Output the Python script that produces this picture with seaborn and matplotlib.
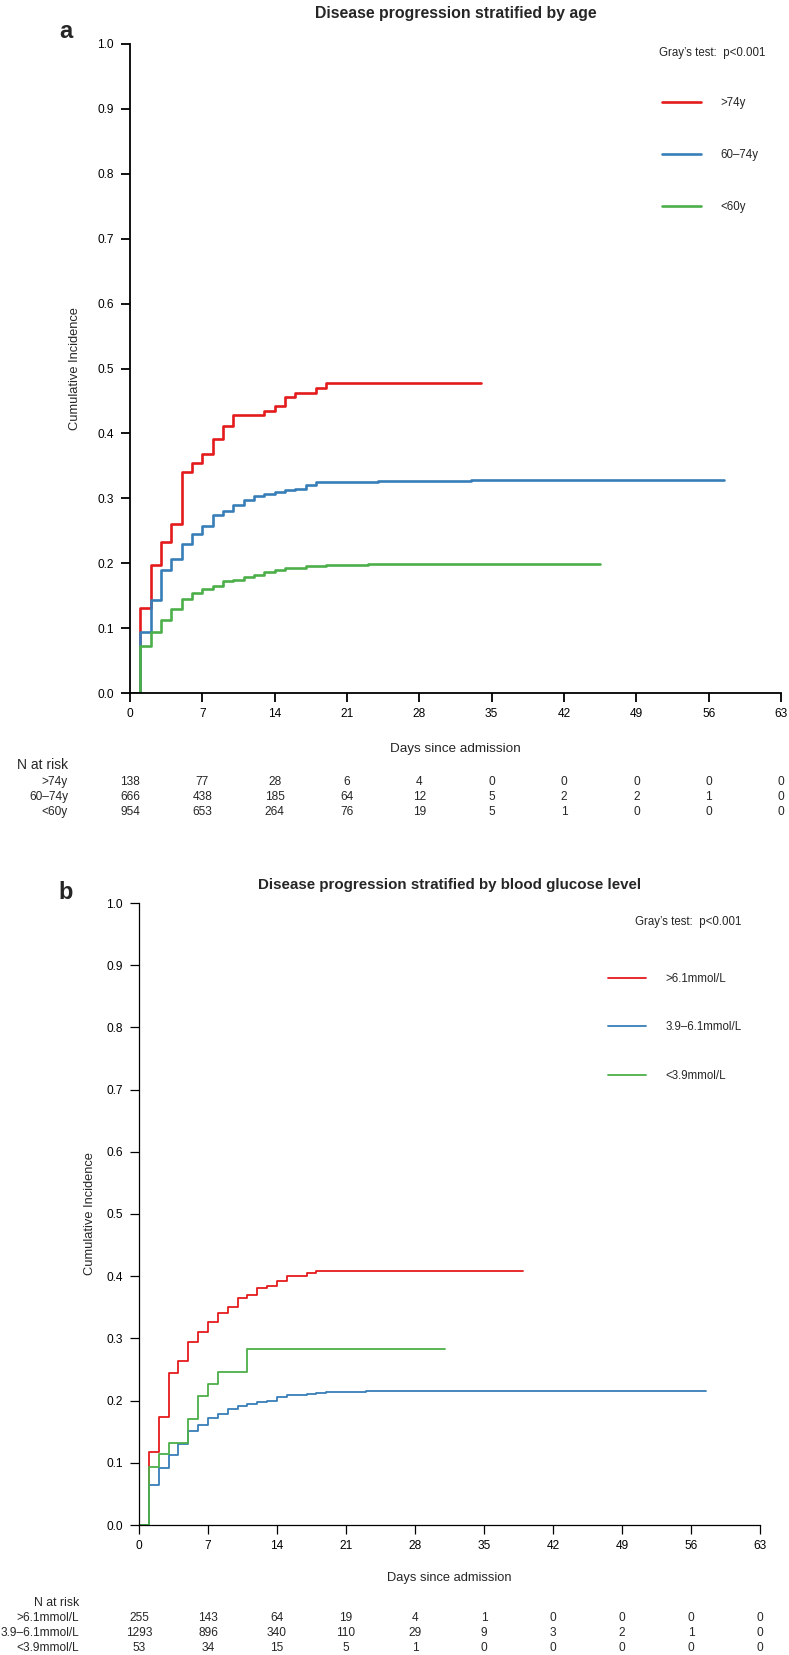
import numpy as np
import pandas as pd
import matplotlib
matplotlib.use("Agg")
import matplotlib.pyplot as plt
from matplotlib.lines import Line2D
from matplotlib.transforms import blended_transform_factory
import seaborn as sns

# ---------------- Panel a: age ----------------
age_groups = [">74y", "60\u201374y", "<60y"]
age_colors = ["#E41A1C", "#377EB8", "#4DAF4A"]

age_red_days = [0, 1, 2, 3, 4, 5, 6, 7, 8, 9, 10, 13, 14, 15, 16, 18, 19, 34]
age_red_ci = [0, .131, .197, .232, .261, .341, .355, .369, .391, .412, .428, .434, .442, .456, .463, .470, .478, .478]

age_blue_days = [0, 1, 2, 3, 4, 5, 6, 7, 8, 9, 10, 11, 12, 13, 14, 15, 16, 17, 18, 24, 33, 57.5]
age_blue_ci = [0, .094, .144, .190, .207, .230, .245, .258, .274, .280, .290, .298, .303, .306, .310, .313, .315, .320, .325, .326, .328, .328]

age_green_days = [0, 1, 2, 3, 4, 5, 6, 7, 8, 9, 10, 11, 12, 13, 14, 15, 17, 19, 23, 27, 45.5]
age_green_ci = [0, .073, .094, .113, .130, .145, .154, .161, .165, .172, .174, .178, .182, .186, .190, .192, .195, .197, .198, .199, .199]

age_nrisk_gt74 = [138, 77, 28, 6, 4, 0, 0, 0, 0, 0]
age_nrisk_60_74 = [666, 438, 185, 64, 12, 5, 2, 2, 1, 0]
age_nrisk_lt60 = [954, 653, 264, 76, 19, 5, 1, 0, 0, 0]

# ---------------- Panel b: glucose ----------------
glu_groups = [">6.1mmol/L", "3.9\u20136.1mmol/L", "<3.9mmol/L"]
glu_colors = ["#E41A1C", "#377EB8", "#4DAF4A"]

glu_red_days = [0, 1, 2, 3, 4, 5, 6, 7, 8, 9, 10, 11, 12, 13, 14, 15, 17, 18, 39]
glu_red_ci = [0, .118, .173, .244, .263, .295, .310, .326, .341, .350, .365, .369, .381, .385, .393, .400, .405, .409, .409]

glu_blue_days = [0, 1, 2, 3, 4, 5, 6, 7, 8, 9, 10, 11, 12, 13, 14, 15, 17, 18, 19, 23, 57.5]
glu_blue_ci = [0, .064, .092, .113, .130, .151, .160, .172, .179, .187, .191, .195, .197, .200, .205, .209, .211, .213, .214, .216, .216]

glu_green_days = [0, 1, 2, 3, 5, 6, 7, 8, 11, 31]
glu_green_ci = [0, .093, .114, .132, .171, .208, .227, .246, .283, .283]

glu_nrisk_gt61 = [255, 143, 64, 19, 4, 1, 0, 0, 0, 0]
glu_nrisk_39_61 = [1293, 896, 340, 110, 29, 9, 3, 2, 1, 0]
glu_nrisk_lt39 = [53, 34, 15, 5, 1, 0, 0, 0, 0, 0]

x_ticks = [0, 7, 14, 21, 28, 35, 42, 49, 56, 63]
y_ticks = [0.0, 0.1, 0.2, 0.3, 0.4, 0.5, 0.6, 0.7, 0.8, 0.9, 1.0]

# ---------------- Style ----------------
sns.set_theme(style="ticks")
plt.rcParams["font.family"] = ["Liberation Sans", "DejaVu Sans"]

W, H = 789, 1655
fig = plt.figure(figsize=(W / 100, H / 100), dpi=100)


def fx(px):
    return px / W


def fy(py):
    return 1 - py / H


def make_df(groups, days_list, ci_list):
    rows = []
    for g, d, c in zip(groups, days_list, ci_list):
        for dd, cc in zip(d, c):
            rows.append({"group": g, "day": dd, "ci": cc})
    return pd.DataFrame(rows)


def draw_panel(rect, groups, colors, days_list, ci_list, nrisk, cfg):
    ax = fig.add_axes(rect)
    df = make_df(groups, days_list, ci_list)
    sns.lineplot(data=df, x="day", y="ci", hue="group", hue_order=groups,
                 palette=colors, estimator=None, drawstyle="steps-post",
                 linewidth=cfg["lw"], legend=False, ax=ax, sort=False)
    ax.set_xlim(0, 63)
    ax.set_ylim(0, 1)
    ax.set_xticks(x_ticks)
    ax.set_xticklabels([str(t) for t in x_ticks])
    ax.set_yticks(y_ticks)
    ax.set_yticklabels([f"{t:.1f}" for t in y_ticks])
    sns.despine(ax=ax)
    for s in ["left", "bottom"]:
        ax.spines[s].set_linewidth(cfg["axlw"])
        ax.spines[s].set_color("black")
    ax.tick_params(direction="out", length=6.5, width=cfg["axlw"], colors="black",
                   labelsize=8.6)
    ax.tick_params(axis="x", pad=4)
    ax.tick_params(axis="y", pad=5)
    ax.set_xlabel("Days since admission", fontsize=cfg["xlab_fs"])
    ax.set_ylabel("Cumulative Incidence", fontsize=9.3)
    ax.xaxis.set_label_coords(0.5, cfg["xlab_y"])
    ax.yaxis.set_label_coords(cfg["ylab_x"], 0.5)
    ax.set_title(cfg["title"], fontsize=cfg["title_fs"], fontweight="bold",
                 pad=cfg["title_pad"])

    # legend
    handles = [Line2D([], [], color=c, lw=cfg["lw"]) for c in colors]
    ax.legend(handles, groups, loc="upper left",
              bbox_to_anchor=(fx(cfg["leg_x"]), fy(cfg["leg_y"])),
              bbox_transform=fig.transFigure, frameon=False, fontsize=8.3,
              handlelength=cfg["hl"], handletextpad=cfg["htp"],
              labelspacing=cfg["ls"], borderpad=0, borderaxespad=0)

    fig.text(fx(cfg["gray_x"]), fy(cfg["gray_y"]), "Gray\u2019s test:  p<0.001",
             fontsize=8.3, ha="left", va="center")
    fig.text(fx(cfg["letter_x"]), fy(cfg["letter_y"]), cfg["letter"],
             fontsize=17, fontweight="bold", ha="center", va="baseline")

    # N at risk table
    trans = blended_transform_factory(ax.transData, fig.transFigure)
    fig.text(fx(cfg["tab_x"]), fy(cfg["nrisk_y"]), "N at risk", fontsize=cfg["nr_fs"],
             ha="right", va="center")
    for g, vals, ry in zip(groups, nrisk, cfg["row_y"]):
        fig.text(fx(cfg["tab_x"]), fy(ry), g, fontsize=8.6, ha="right", va="center")
        for t, v in zip(x_ticks, vals):
            ax.text(t, fy(ry), str(v), transform=trans, fontsize=8.6,
                    ha="center", va="center", clip_on=False)
    return ax


# Panel a
left_a, right_a, top_a, bot_a = 130, 781, 44, 693
cfg_a = dict(lw=1.9, axlw=1.3, title="Disease progression stratified by age",
             title_fs=11.4, title_pad=19, xlab_fs=9.7,
             xlab_y=-(750 - 7 - bot_a) / (bot_a - top_a),
             ylab_x=-(130 - 81) / (right_a - left_a),
             leg_x=662, leg_y=97, hl=3.4, htp=1.65, ls=3.45,
             gray_x=659, gray_y=53, letter="a", letter_x=66, letter_y=38,
             tab_x=68, nr_fs=10, nrisk_y=765, row_y=[782, 797, 812])
draw_panel([fx(left_a), fy(bot_a), (right_a - left_a) / W, (bot_a - top_a) / H],
           age_groups, age_colors,
           [age_red_days, age_blue_days, age_green_days],
           [age_red_ci, age_blue_ci, age_green_ci],
           [age_nrisk_gt74, age_nrisk_60_74, age_nrisk_lt60], cfg_a)

# Panel b
left_b, right_b, top_b, bot_b = 139, 760, 903, 1525
cfg_b = dict(lw=1.3, axlw=0.9, title="Disease progression stratified by blood glucose level",
             title_fs=10.9, title_pad=10, xlab_fs=9.3,
             xlab_y=-(1578 - 6 - bot_b) / (bot_b - top_b),
             ylab_x=-(139 - 96) / (right_b - left_b),
             leg_x=608, leg_y=973, hl=3.3, htp=1.65, ls=3.15,
             gray_x=635, gray_y=922, letter="b", letter_x=66, letter_y=899,
             tab_x=79, nr_fs=8.8, nrisk_y=1603, row_y=[1618, 1633, 1648])
draw_panel([fx(left_b), fy(bot_b), (right_b - left_b) / W, (bot_b - top_b) / H],
           glu_groups, glu_colors,
           [glu_red_days, glu_blue_days, glu_green_days],
           [glu_red_ci, glu_blue_ci, glu_green_ci],
           [glu_nrisk_gt61, glu_nrisk_39_61, glu_nrisk_lt39], cfg_b)

fig.savefig("out.png", dpi=100, facecolor="white")
